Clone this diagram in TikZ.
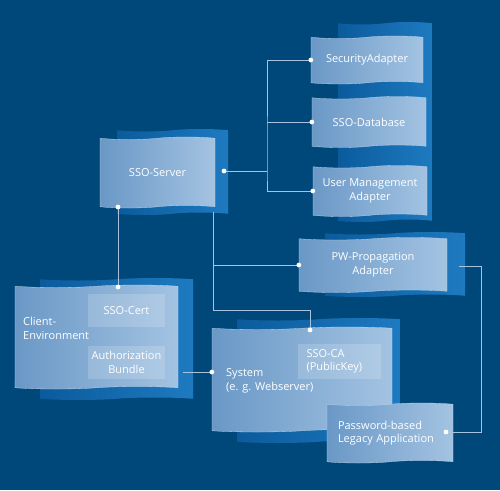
\documentclass[tikz,border=0pt]{standalone}
\usepackage{fontspec}
\setmainfont{Open Sans}
\usetikzlibrary{shapes.symbols}

\definecolor{bgblue}{HTML}{00487A}
\definecolor{sheetdark}{HTML}{6A98C6}
\definecolor{sheetlight}{HTML}{A3C3E2}
\definecolor{backblue}{HTML}{1E7AC0}
\definecolor{backdark}{HTML}{0B5B9C}
\definecolor{linkgray}{HTML}{A8C3DD}

\begin{document}
\begin{tikzpicture}[x=1pt, y=-1pt,
        sheet/.style={tape, tape bend top=in and out, tape bend bottom=in and out,
                      tape bend height=2.5pt, left color=sheetdark, right color=sheetlight,
                      draw=sheetlight!70!white, line width=0.3pt, inner sep=0pt,
                      align=center, text=white, font=\fontsize{11}{13.5}\selectfont},
        backsheet/.style={tape, tape bend top=in and out, tape bend bottom=in and out,
                      tape bend height=2.5pt, left color=backdark, right color=backblue,
                      inner sep=0pt},
        inset/.style={rectangle, fill=white, fill opacity=0.17, text opacity=1,
                      inner sep=0pt, text=white, font=\fontsize{11}{13.5}\selectfont},
        caption/.style={align=left, text=white, inner sep=0pt,
                      font=\fontsize{11}{13.5}\selectfont},
        link/.style={draw=linkgray, line width=0.7pt},
        dot/.style={fill=white}
    ]
        \fill[bgblue] (0,0) rectangle (500,490);

        % back sheets
        \node[backsheet, minimum width=111pt, minimum height=86pt] (server-back) at (172.5,172) {};
        \node[backsheet, minimum width=94pt, minimum height=200pt] (adapter-column) at (385,122) {};
        \node[backsheet, minimum width=140pt, minimum height=65pt] (pw-back) at (395,264.5) {};
        \node[backsheet, minimum width=153pt, minimum height=122pt] (client-back) at (116.5,339) {};
        \node[backsheet, minimum width=163pt, minimum height=125pt] (system-back) at (318.5,380.5) {};

        % front sheets
        \node[sheet, minimum width=115pt, minimum height=71pt] (server) at (157.5,172.5) {SSO-Server};
        \node[sheet, minimum width=112pt, minimum height=48pt] (sec-adapter) at (367,60) {SecurityAdapter};
        \node[sheet, minimum width=114pt, minimum height=51pt] (sso-db) at (369,122) {SSO-Database};
        \node[sheet, minimum width=114pt, minimum height=51pt] (user-mgmt) at (370,191)
            {User Management\\Adapter};
        \node[sheet, minimum width=148pt, minimum height=55pt] (pw-adapter) at (373,265)
            {PW-Propagation\\Adapter};
        \node[sheet, minimum width=163pt, minimum height=104pt] (client) at (96.5,337) {};
        \node[sheet, minimum width=180pt, minimum height=105pt] (system) at (302,379.5) {};
        \node[sheet, minimum width=126pt, minimum height=60pt, align=left, text width=104pt]
            (legacy) at (390,433) {Password-based\\Legacy Application};

        % parts inside the sheets
        \node[inset, minimum width=77pt, minimum height=33pt] (sso-cert) at (126.5,310.5) {SSO-Cert};
        \node[inset, minimum width=77pt, minimum height=33pt, align=center] (auth-bundle)
            at (126.5,362.5) {Authorization\\Bundle};
        \node[inset, minimum width=83pt, minimum height=35pt, align=left, text width=66pt]
            (sso-ca) at (339.5,361.5) {SSO-CA\\(PublicKey)};
        \node[caption, anchor=west] (client-label) at (23,328.5) {Client-\\Environment};
        \node[caption, anchor=west] (system-label) at (226,381) {System\\(e. g. Webserver)};

        % connectors
        \coordinate (server-out) at (224,171);
        \coordinate (hub) at (267,171);
        \coordinate (server-down) at (118,207);
        \coordinate (client-up) at (118,287);
        \coordinate (server-tail) at (213,212);
        \coordinate (ca-in) at (310,330);
        \coordinate (client-out) at (183,372);
        \coordinate (pw-out) at (459,266);
        \coordinate (legacy-in) at (446,432);

        \draw[link] (server-out) -- (hub);
        \draw[link] (sec-adapter.west) -| (hub) |- (user-mgmt.west);
        \draw[link] (sso-db.west) -- (sso-db.west -| hub);
        \draw[link] (server-down) -- (client-up);
        \draw[link] (server-tail) |- (pw-adapter.west);
        \draw[link] (server-tail) -- (213,310) -| (ca-in);
        \draw[link] (client-out) -- (system.west |- client-out);
        \draw[link] (pw-out) -- (481,266) |- (legacy-in);

        \foreach \p in {server-out, sec-adapter.west, sso-db.west, user-mgmt.west,
                        server-down, client-up, pw-adapter.west, ca-in, legacy-in}
            \fill[dot] (\p) circle (2.4pt);
        \fill[dot] (system.west |- client-out) circle (2.4pt);
    \end{tikzpicture}
\end{document}
